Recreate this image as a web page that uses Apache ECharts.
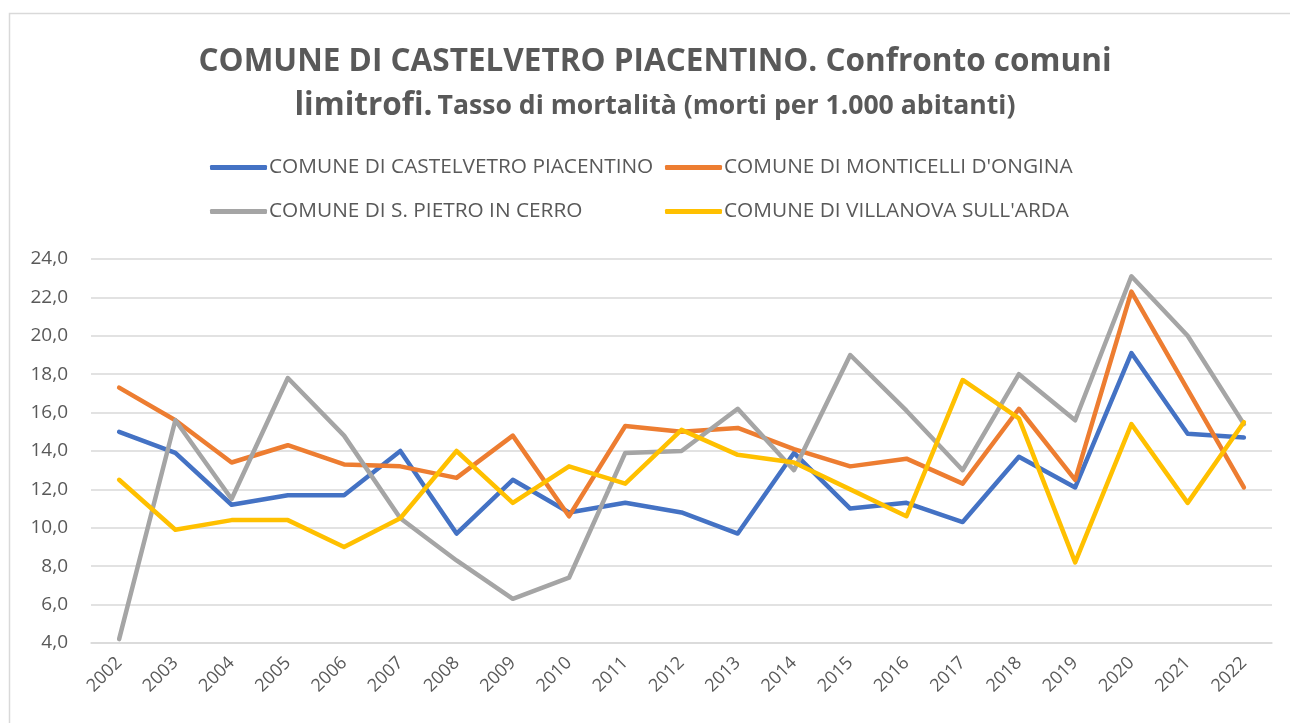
<!DOCTYPE html>
<html>
<head>
<meta charset="utf-8">
<script src="https://cdn.jsdelivr.net/npm/echarts@6/dist/echarts.min.js"></script>
<style>
  html, body { margin: 0; padding: 0; background: #ffffff; }
  #chart { width: 1290px; height: 723px; }
</style>
</head>
<body>
<div id="chart"></div>
<script>
// Anni di riferimento
const years = ['2002','2003','2004','2005','2006','2007','2008','2009','2010','2011','2012',
               '2013','2014','2015','2016','2017','2018','2019','2020','2021','2022'];

// Tasso di mortalità (morti per 1.000 abitanti)
const castelvetro = [15.0,13.9,11.2,11.7,11.7,14.0,9.7,12.5,10.8,11.3,10.8,9.7,13.9,11.0,11.3,10.3,13.7,12.1,19.1,14.9,14.7];
const monticelli  = [17.3,15.6,13.4,14.3,13.3,13.2,12.6,14.8,10.6,15.3,15.0,15.2,14.1,13.2,13.6,12.3,16.2,12.5,22.3,17.2,12.1];
const sanPietro   = [4.2,15.6,11.5,17.8,14.8,10.5,8.3,6.3,7.4,13.9,14.0,16.2,13.0,19.0,16.1,13.0,18.0,15.6,23.1,20.0,15.4];
const villanova   = [12.5,9.9,10.4,10.4,9.0,10.5,14.0,11.3,13.2,12.3,15.1,13.8,13.4,12.0,10.6,17.7,15.7,8.2,15.4,11.3,15.5];

const seriesNames = ['COMUNE DI CASTELVETRO PIACENTINO', 'COMUNE DI MONTICELLI D\'ONGINA',
                     'COMUNE DI S. PIETRO IN CERRO', 'COMUNE DI VILLANOVA SULL\'ARDA'];
const seriesColors = ['#4472C4', '#ED7D31', '#A5A5A5', '#FFC000'];
const seriesData = [castelvetro, monticelli, sanPietro, villanova];

// Tick dell'asse verticale
const yMin = 4, yMax = 24, yStep = 2;

const FONT = '"Open Sans", Lato, sans-serif';
const TEXT = '#595959';

const chart = echarts.init(document.getElementById('chart'), null, { renderer: 'canvas' });

const legendCommon = {
  orient: 'vertical',
  top: 157,
  padding: 0,
  itemWidth: 57,
  itemHeight: 5,
  itemGap: 23,
  icon: 'roundRect',
  textStyle: { fontFamily: FONT, fontSize: 20.8, color: TEXT, padding: [0, 0, 0, -3] }
};

chart.setOption({
  backgroundColor: '#ffffff',
  animation: false,
  graphic: [{
    type: 'rect',
    shape: { x: 9.5, y: 13.5, width: 1300, height: 720 },
    style: { fill: 'none', stroke: '#d9d9d9', lineWidth: 1.5 },
    silent: true, z: -1
  }],
  title: {
    left: 650,
    top: 35,
    textAlign: 'center',
    text: '{a|COMUNE DI CASTELVETRO PIACENTINO. Confronto comuni}\n{a|limitrofi.} {b|Tasso di mortalità (morti per 1.000 abitanti)}',
    textStyle: {
      rich: {
        a: { fontFamily: FONT, fontWeight: 'bold', fontSize: 31.5, color: TEXT, lineHeight: 44 },
        b: { fontFamily: FONT, fontWeight: 'bold', fontSize: 26.6, color: TEXT, lineHeight: 44 }
      }
    }
  },
  legend: [
    Object.assign({ left: 210, data: [seriesNames[0], seriesNames[2]] }, legendCommon),
    Object.assign({ left: 665, data: [seriesNames[1], seriesNames[3]] }, legendCommon)
  ],
  grid: { left: 91, right: 18, top: 259, bottom: 80, containLabel: false },
  xAxis: {
    type: 'category',
    data: years,
    boundaryGap: true,
    axisLine: { show: true, lineStyle: { color: '#d9d9d9', width: 1.5 } },
    axisTick: { show: false },
    axisLabel: {
      rotate: 45, margin: 17, fontFamily: FONT, fontSize: 18, color: TEXT, interval: 0
    }
  },
  yAxis: {
    type: 'value',
    min: yMin, max: yMax, interval: yStep,
    axisLine: { show: false },
    axisTick: { show: false },
    splitLine: { lineStyle: { color: '#d9d9d9', width: 1.5 } },
    axisLabel: {
      margin: 23, fontFamily: FONT, fontSize: 19, color: TEXT,
      formatter: v => v.toFixed(1).replace('.', ',')
    }
  },
  series: seriesNames.map((name, i) => ({
    name: name,
    type: 'line',
    data: seriesData[i],
    color: seriesColors[i],
    symbol: 'none',
    lineStyle: { width: 4.5, color: seriesColors[i], cap: 'round', join: 'round' },
    z: 2
  }))
});
</script>
</body>
</html>
